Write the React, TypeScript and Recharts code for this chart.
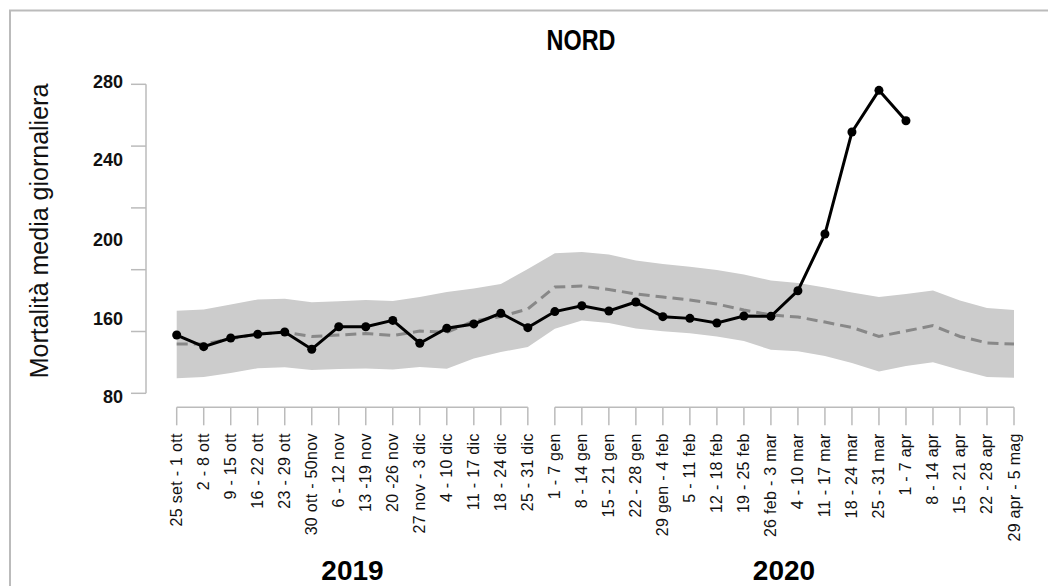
import { ComposedChart, Area, Line, XAxis, YAxis } from "recharts";

const weeks2019 = [
  "25 set - 1 ott", "2 - 8 ott", "9 - 15 ott", "16 - 22 ott", "23 - 29 ott",
  "30 ott - 50nov", "6 - 12 nov", "13 -19 nov", "20 -26 nov", "27 nov - 3 dic",
  "4 - 10 dic", "11 - 17 dic", "18 - 24 dic", "25 - 31 dic",
];
const weeks2020 = [
  "1 - 7 gen", "8 - 14 gen", "15 - 21 gen", "22 - 28 gen", "29 gen - 4 feb",
  "5 - 11 feb", "12 - 18 feb", "19 - 25 feb", "26 feb - 3 mar", "4 - 10 mar",
  "11 - 17 mar", "18 - 24 mar", "25 - 31 mar", "1 - 7 apr", "8 - 14 apr",
  "15 - 21 apr", "22 - 28 apr", "29 apr - 5 mag",
];

// mortalità osservata (fino a 1 - 7 apr)
const observed = [
  117.7, 110.2, 115.8, 118.2, 119.7, 108.5, 123.1, 123.1, 127.2, 112.4,
  122.1, 124.9, 131.8, 122.5, 132.9, 136.7, 133.3, 139.1, 129.6, 128.5,
  125.5, 130.0, 129.8, 146.4, 183.1, 249.1, 276.1, 256.4,
];
// mortalità attesa
const expected = [
  111.9, 111.9, 115.1, 118.5, 119.5, 116.8, 117.7, 118.7, 117.4, 120.3,
  119.4, 126.8, 129.7, 134.6, 148.8, 149.4, 147.2, 144.3, 142.3, 140.4,
  137.8, 133.9, 130.7, 129.4, 126.1, 122.6, 116.8, 120.3, 123.8, 116.8,
  112.6, 111.9,
];
const bandLow = [
  89.7, 90.5, 93.1, 96.2, 96.8, 95.1, 95.7, 96.1, 95.4, 97.0,
  95.9, 102.5, 106.7, 110.0, 121.8, 127.1, 125.5, 121.9, 120.2, 118.8,
  116.8, 113.8, 108.2, 107.2, 104.1, 99.6, 94.1, 97.7, 100.1, 95.1,
  90.5, 90.1,
];
const bandHigh = [
  133.5, 134.3, 137.5, 140.7, 141.2, 139.0, 139.6, 140.4, 139.7, 142.3,
  145.6, 147.8, 150.7, 160.4, 170.6, 171.4, 169.8, 165.9, 163.7, 161.9,
  159.8, 156.9, 153.0, 151.4, 148.5, 145.2, 142.3, 144.3, 146.5, 140.1,
  135.2, 133.9,
];
const yTicks = [80, 120, 160, 200, 240, 280];
const yTickLabels = ["280", "240", "200", "160", "80"];

const weeks = [...weeks2019, ...weeks2020];
const rows = weeks.map((week, i) => ({
  week,
  observed: i < observed.length ? observed[i] : null,
  expected: expected[i],
  band: [bandLow[i], bandHigh[i]],
}));

const W = 1048;
const H = 586;
const plotLeft = 146;
const plotRight = 1014;
const plotTop = 84.3;
const yBottom = 393.3;
const xAxisY = 407.3;
const padLeft = 30.7;
const step = (plotRight - plotLeft - padLeft) / (weeks.length - 1);
const axisGrey = "#bbbbbb";
const font = "'Liberation Sans', Arial, sans-serif";

// the original places its y labels on an even grid of their own
const labelNudge: Record<number, number> = { 280: -2.6, 240: 13.7, 200: 32.2, 160: 49, 80: 3.4 };

function YTick({ x, y, payload }: any) {
  const v = payload.value;
  if (!yTickLabels.includes(String(v))) return null;
  return (
    <text x={x} y={y + (labelNudge[v] ?? 0)} textAnchor="end" dominantBaseline="central"
      fontFamily={font} fontWeight="bold" fontSize={18} fill="#111">
      {v}
    </text>
  );
}

function XTick({ x, y, payload }: any) {
  return (
    <text transform={`translate(${x},${y}) rotate(-90)`} textAnchor="end" dominantBaseline="central"
      fontFamily={font} fontSize={16} letterSpacing={0.3} fill="#111">
      {payload.value}
    </text>
  );
}

export default function App() {
  return (
    <div style={{ position: "fixed", left: 0, top: 0, width: W, height: H, background: "#fff" }}>
      <ComposedChart width={W} height={H} data={rows}
        margin={{ top: plotTop, right: W - plotRight, bottom: H - xAxisY - 170, left: 0 }}>
        <XAxis dataKey="week" height={170} interval={0} padding={{ left: padLeft, right: 0 }}
          axisLine={{ stroke: axisGrey, strokeWidth: 1.5,
            strokeDasharray: `0 ${padLeft} ${13 * step} ${step} ${17 * step} 200` }}
          tickLine={{ stroke: axisGrey, strokeWidth: 1.5 }} tickSize={18} tickMargin={8}
          tick={<XTick />} />
        <YAxis width={plotLeft} domain={[80, 280]} ticks={yTicks} padding={{ top: 0, bottom: xAxisY - yBottom }}
          axisLine={{ stroke: axisGrey, strokeWidth: 1.5, strokeDasharray: `${yBottom - plotTop} 200` }}
          tickLine={{ stroke: axisGrey, strokeWidth: 1.5 }} tickSize={15} tickMargin={8}
          tick={<YTick />} />
        <Area dataKey="band" type="linear" fill="#cccccc" fillOpacity={1} stroke="none"
          isAnimationActive={false} />
        <Line dataKey="expected" type="linear" stroke="#888888" strokeWidth={3} strokeDasharray="11 6"
          dot={false} isAnimationActive={false} />
        <Line dataKey="observed" type="linear" stroke="#000" strokeWidth={3}
          dot={{ r: 4.5, fill: "#000", stroke: "none" }} connectNulls={false} isAnimationActive={false} />
      </ComposedChart>
      <svg width={W} height={H} style={{ position: "absolute", left: 0, top: 0, pointerEvents: "none" }}>
        <path d={`M10 ${H} V10.5 H${W}`} fill="none" stroke={axisGrey} strokeWidth={2} />
        <text transform="translate(581,50) scale(0.78,1)" textAnchor="middle" fontFamily={font}
          fontWeight="bold" fontSize={30} fill="#000">NORD</text>
        <text transform="translate(48,231) rotate(-90)" textAnchor="middle" fontFamily={font}
          fontSize={25} fill="#111">Mortalità media giornaliera</text>
        <text x={352.5} y={580} textAnchor="middle" fontFamily={font} fontWeight="bold" fontSize={28} fill="#000">2019</text>
        <text x={784} y={580} textAnchor="middle" fontFamily={font} fontWeight="bold" fontSize={28} fill="#000">2020</text>
      </svg>
    </div>
  );
}
